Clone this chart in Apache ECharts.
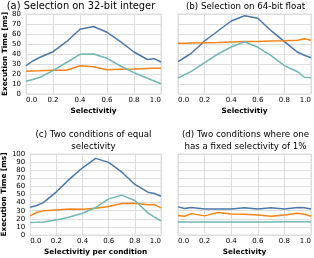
<!DOCTYPE html>
<html><head><meta charset="utf-8">
<script src="https://cdn.jsdelivr.net/npm/echarts@6/dist/echarts.min.js"></script>
<style>html,body{margin:0;padding:0;background:#fff}#c{width:314px;height:258px}</style>
</head><body><div id="c"></div>
<script>
const selectivity = [0, 0.05, 0.1, 0.2, 0.3, 0.4, 0.5, 0.6, 0.7, 0.8, 0.9, 0.95, 1.0];
const xTicks = [0, 0.2, 0.4, 0.6, 0.8, 1.0];
// (a) 32-bit integer
const aBlue   = [28.3, 33, 36.5, 42.3, 52.3, 64.7, 67.5, 61.7, 52.3, 42, 34.5, 35.3, 32];
const aOrange = [22.7, 23, 23.2, 23.7, 23.7, 28.3, 27.3, 24.3, 24.7, 25, 25.5, 25.7, 25.7];
const aTeal   = [12.7, 14.5, 16.5, 23.3, 31.5, 39.7, 40, 35.7, 28, 21.3, 15.7, 13, 10.3];
// (b) 64-bit float
const bBlue   = [32.3, 36.5, 40.7, 53, 63, 73, 78.3, 75.7, 63.3, 52.3, 41.7, 38.7, 36.3];
const bOrange = [50.7, 50.8, 51, 51.3, 51.6, 52, 52.4, 52.6, 53, 53.3, 53.7, 55.3, 53.7];
const bTeal   = [16, 19.3, 22.7, 31.3, 40, 47, 52.3, 46.7, 38.3, 28.3, 22.3, 16.7, 16.3];
// (c) two conditions equal selectivity
const cBlue   = [34.3, 36.4, 40, 53.3, 69, 83, 94.6, 89.7, 77.7, 62.4, 52.9, 51.2, 47.9];
const cOrange = [23.6, 28.1, 29.8, 31, 32.2, 31.8, 33, 35.1, 38.8, 39.3, 37.2, 37.6, 33.5];
const cTeal   = [15.3, 15.6, 16.1, 18.6, 22.3, 26.9, 33.9, 44.6, 49.2, 42.6, 27.3, 22, 17.4];
// (d) one fixed selectivity of 1%
const dBlue   = [34.7, 32.6, 33.9, 32.2, 32.2, 32.2, 33.5, 32.2, 33.5, 32.2, 33.9, 33.5, 32.2];
const dOrange = [24, 23.1, 26.4, 23.6, 27.7, 26, 25.6, 24.8, 23.1, 24.8, 26.9, 25.6, 23.1];
const dTeal   = [16.1, 16.1, 16.1, 16.1, 16.1, 16.1, 16.2, 16.2, 16.2, 16.3, 16.3, 16.4, 16.5];

const titles = ['(a) Selection on 32-bit integer', '(b) Selection on 64-bit float',
  '(c) Two conditions of equal\nselectivity', '(d) Two conditions where one\nhas a fixed selectivity of 1%'];
const xNames = ['Selectivitiy', 'Selectivitiy', 'Selectivitiy per condition', 'Selectivity'];
const yName = 'Execution Time [ms]';

const COLORS = ['#4c78a8', '#f58518', '#72b7b2'];
const FONT = 'DejaVu Sans';
const grids = [
  {left: 26, top: 14, width: 135, height: 80},
  {left: 178, top: 14, width: 135, height: 80},
  {left: 26, top: 154, width: 135, height: 81},
  {left: 178, top: 154, width: 135, height: 81}
];
const yMax = [80, 80, 100, 100];
const panels = [[aBlue, aOrange, aTeal], [bBlue, bOrange, bTeal], [cBlue, cOrange, cTeal], [dBlue, dOrange, dTeal]];
const titleX = [81, 245.5, 93.5, 245.5];
const titleSize = [9.9, 8.7, 8.7, 8.7];

const option = {
  animation: false,
  grid: grids.map(g => Object.assign({show: true, borderColor: '#ddd', borderWidth: 1}, g)),
  xAxis: grids.map((g, i) => ({
    type: 'value', gridIndex: i, min: 0, max: 1, interval: 0.2,
    name: xNames[i], nameLocation: 'middle', nameGap: 14,
    nameTextStyle: {fontFamily: FONT, fontSize: 7.3, fontWeight: 'bold', color: '#000'},
    axisLine: {show: false}, axisTick: {show: false},
    axisLabel: {fontFamily: FONT, fontSize: 7, color: '#000', margin: 3,
      alignMinLabel: 'left', alignMaxLabel: 'right',
      formatter: v => v.toFixed(1)},
    splitLine: {lineStyle: {color: '#ddd', width: 1}}
  })),
  yAxis: grids.map((g, i) => ({
    type: 'value', gridIndex: i, min: 0, max: yMax[i], interval: 10,
    name: (i % 2 === 0) ? yName : '', nameLocation: 'middle', nameGap: 16,
    nameTextStyle: {fontFamily: FONT, fontSize: 7.3, fontWeight: 'bold', color: '#000'},
    axisLine: {show: false}, axisTick: {show: false},
    axisLabel: {show: i % 2 === 0, fontFamily: FONT, fontSize: 7, color: '#000', margin: 5},
    splitLine: {lineStyle: {color: '#ddd', width: 1}}
  })),
  series: [],
  graphic: titles.map((t, i) => ({
    type: 'text',
    x: titleX[i], y: (i < 2) ? 1 : 129,
    style: {text: t, fontFamily: FONT, fontSize: titleSize[i], fill: '#000', textAlign: 'center', lineHeight: 11.5}
  }))
};
panels.forEach((p, i) => {
  p.forEach((vals, k) => {
    option.series.push({
      type: 'line', xAxisIndex: i, yAxisIndex: i, showSymbol: false,
      lineStyle: {color: COLORS[k], width: 1.5}, itemStyle: {color: COLORS[k]},
      data: selectivity.map((x, j) => [x, vals[j]])
    });
  });
});
const chart = echarts.init(document.getElementById('c'), null, {renderer: 'canvas'});
chart.setOption(option);
</script></body></html>
